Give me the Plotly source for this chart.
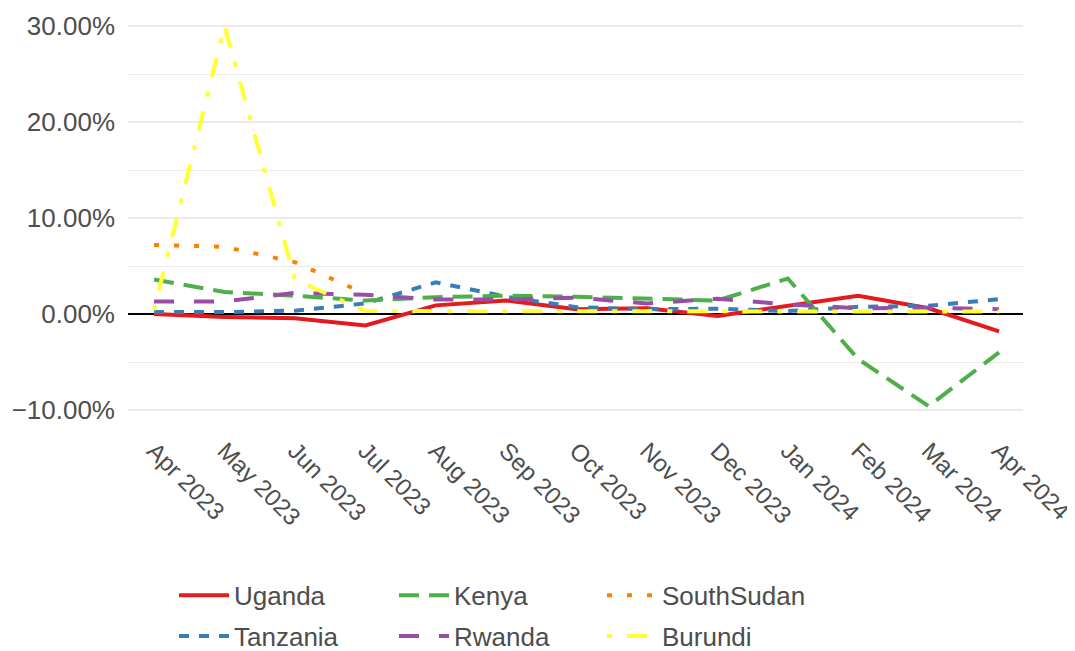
"""Monthly inflation rates for East African countries (Apr 2023 - Apr 2024)."""

import plotly.graph_objects as go

months = [
    "Apr 2023", "May 2023", "Jun 2023", "Jul 2023", "Aug 2023", "Sep 2023",
    "Oct 2023", "Nov 2023", "Dec 2023", "Jan 2024", "Feb 2024", "Mar 2024",
    "Apr 2024",
]

# values in percent
uganda = [0.0, -0.3, -0.45, -1.2, 0.9, 1.4, 0.5, 0.6, -0.2, 0.8, 1.9, 0.6, -1.8]
tanzania = [0.2, 0.2, 0.35, 1.1, 3.3, 1.8, 0.7, 0.5, 0.55, 0.3, 0.75, 0.85, 1.55]
kenya = [3.6, 2.3, 1.9, 1.4, 1.75, 1.9, 1.8, 1.65, 1.4, 3.7, -4.7, -9.6, -4.0]
rwanda = [1.3, 1.3, 2.2, 2.0, 1.5, 1.5, 1.7, 1.1, 1.6, 1.0, 0.6, 0.65, 0.5]
south_sudan = [7.2, 7.0, 5.4, 2.1, None, None, None, None, None, None, None, None, None]
burundi = [0.4, 30.0, 3.6, 0.3, 0.3, 0.3, 0.35, 0.3, 0.3, 0.35, 0.25, 0.3, 0.25]

# Set1 palette with ggplot's default linetype sequence; one legend per column
SERIES = [
    ("Uganda", uganda, "#E41A1C", "solid", "legend"),
    ("Tanzania", tanzania, "#377EB8", "10px,10px", "legend"),
    ("Kenya", kenya, "#4DAF4A", "20px,10px", "legend2"),
    ("Rwanda", rwanda, "#984EA3", "20px,20px", "legend2"),
    ("SouthSudan", south_sudan, "#FF7F00", "5px,15px", "legend3"),
    ("Burundi", burundi, "#FFFF33", "5px,15px,20px,15px", "legend3"),
]

TEXT_COLOR = "#4D4D4D"
GRID_COLOR = "#EBEBEB"


def _legend(x: float) -> dict:
    return {
        "orientation": "v",
        "x": x,
        "xanchor": "left",
        "y": -0.349,
        "yanchor": "top",
        "itemwidth": 50,
        "tracegroupgap": 4,
        "font": {"size": 26, "color": TEXT_COLOR},
        "bgcolor": "rgba(0,0,0,0)",
    }


fig = go.Figure()
for name, values, color, dash, legend in SERIES:
    fig.add_trace(
        go.Scatter(
            x=months,
            y=values,
            name=name,
            mode="lines",
            line={"color": color, "width": 4, "dash": dash},
            legend=legend,
            legendgroup=name,
        )
    )

fig.update_layout(
    width=1075,
    height=651,
    template="none",
    plot_bgcolor="white",
    paper_bgcolor="white",
    font={"family": "Liberation Sans, Arial, sans-serif", "size": 26, "color": TEXT_COLOR},
    margin={"l": 120, "r": 60, "t": 0, "b": 233, "autoexpand": False},
    showlegend=True,
    legend=_legend(0.0514),
    legend2=_legend(0.2972),
    legend3=_legend(0.5296),
    xaxis={
        "type": "category",
        "range": [-0.37, 12.34],
        "showgrid": False,
        "zeroline": False,
        "showline": False,
        "ticks": "",
        "tickangle": 45,
        "tickfont": {"size": 24},
        "ticklabelstandoff": 5,
        "automargin": False,
    },
    yaxis={
        "range": [-11.667, 31.875],
        "dtick": 10,
        "tick0": 0,
        "tickformat": ".2f",
        "ticksuffix": "%",
        "showgrid": True,
        "gridcolor": GRID_COLOR,
        "gridwidth": 2,
        "minor": {"dtick": 5, "showgrid": True, "gridcolor": GRID_COLOR, "gridwidth": 1},
        "zeroline": True,
        "zerolinecolor": "black",
        "zerolinewidth": 2,
        "showline": False,
        "ticks": "",
        "ticklabelstandoff": 12,
        "automargin": False,
    },
)

fig.write_html("out.html")
